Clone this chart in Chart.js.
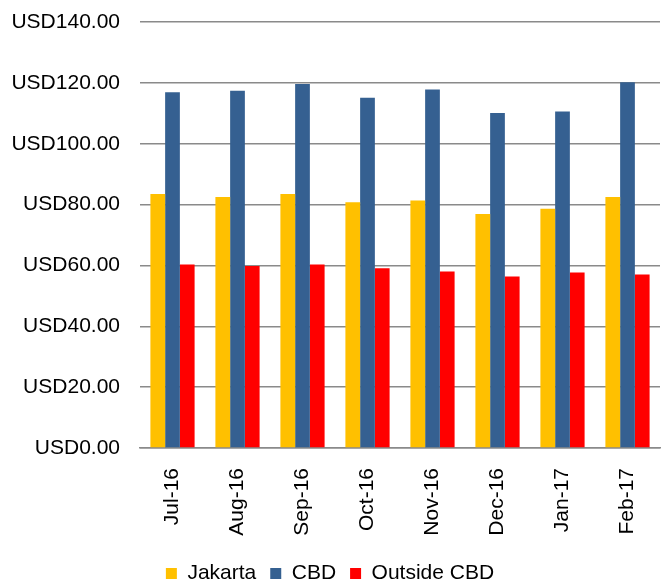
<!DOCTYPE html>
<html>
<head>
<meta charset="utf-8">
<script src="https://cdn.jsdelivr.net/npm/chart.js@4"></script>
<style>
  html, body { margin: 0; padding: 0; background: #fff; }
  #wrap { width: 667px; height: 586px; position: relative; }
</style>
</head>
<body>
<div id="wrap"><canvas id="rentChart"></canvas></div>
<script>
// Monthly office rents (USD)
const months = ['Jul-16', 'Aug-16', 'Sep-16', 'Oct-16', 'Nov-16', 'Dec-16', 'Jan-17', 'Feb-17'];
const jakarta = [83.5, 82.5, 83.5, 80.8, 81.3, 76.9, 78.6, 82.5];
const cbd = [116.9, 117.4, 119.6, 115.1, 117.8, 110.1, 110.6, 120.2];
const outsideCbd = [60.3, 59.8, 60.3, 59.1, 58.0, 56.4, 57.7, 57.0];

const gridGrey = '#8a8a8a';
Chart.defaults.font.family = '"Liberation Sans", Arial, sans-serif';
Chart.defaults.font.size = 21;
Chart.defaults.color = '#000';

new Chart(document.getElementById('rentChart'), {
  type: 'bar',
  data: {
    labels: months,
    datasets: [
      { label: 'Jakarta', data: jakarta, backgroundColor: '#FFC000' },
      { label: 'CBD', data: cbd, backgroundColor: '#356091' },
      { label: 'Outside CBD', data: outsideCbd, backgroundColor: '#FF0000' },
    ],
  },
  options: {
    responsive: true,
    maintainAspectRatio: false,
    animation: false,
    datasets: {
      bar: { categoryPercentage: 0.68, barPercentage: 1.0 }
    },
    layout: { padding: { left: 0, right: 7, top: 22, bottom: -8 } },
    plugins: {
      tooltip: { enabled: false },
      legend: {
        position: 'bottom',
        labels: { boxWidth: 11, boxHeight: 11, padding: 14 }
      }
    },
    scales: {
      x: {
        grid: { display: false },
        border: { display: true, color: gridGrey, width: 1.5 },
        ticks: { minRotation: 90, maxRotation: 90, padding: 12 },
        afterFit: scale => { scale.height = 101; }
      },
      y: {
        min: 0,
        max: 140,
        grid: { color: gridGrey, lineWidth: 1.5, drawTicks: false },
        border: { display: false },
        ticks: {
          stepSize: 20,
          padding: 20,
          callback: v => 'USD' + v.toFixed(2)
        },
        afterFit: scale => {
          scale.width = 140;
          scale.paddingTop = 0;
          scale.paddingBottom = 0;
        }
      }
    }
  }
});
</script>
</body>
</html>
